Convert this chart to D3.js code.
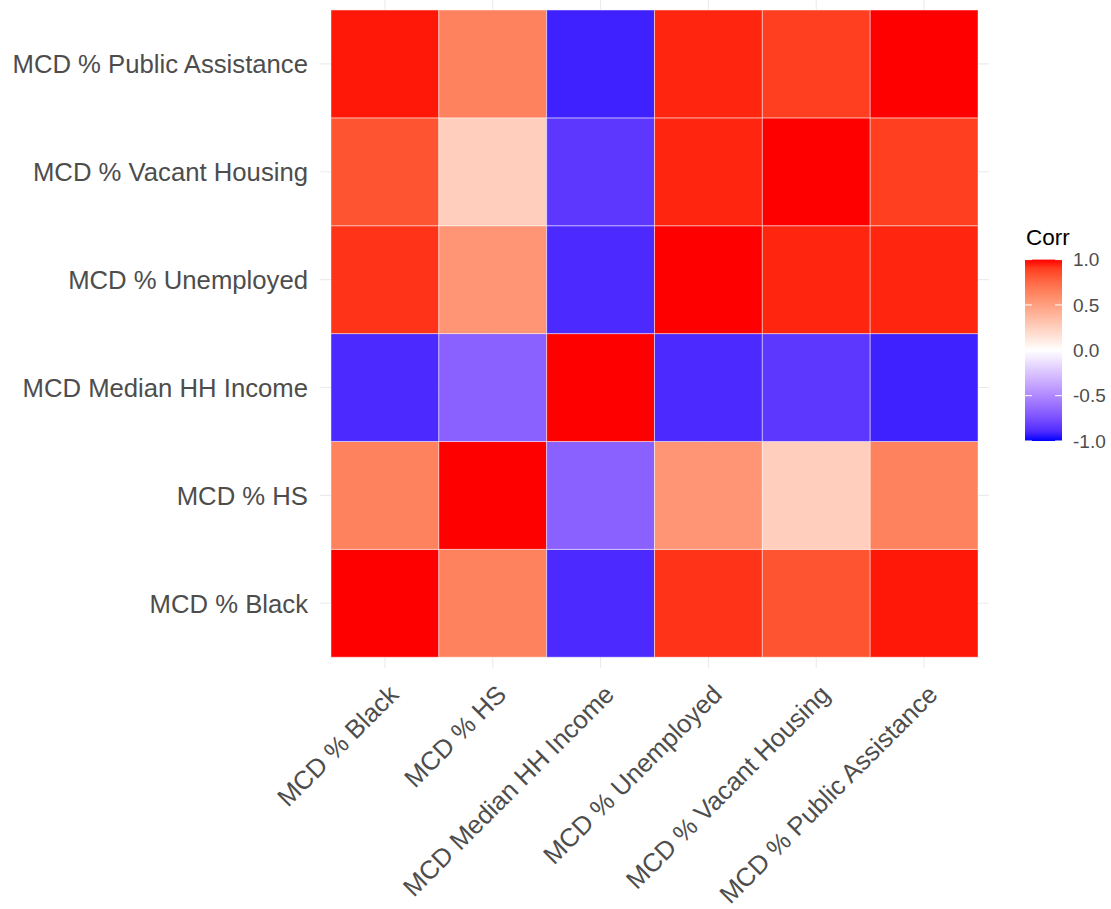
<!DOCTYPE html>
<html>
<head>
<meta charset="utf-8">
<script src="https://cdn.jsdelivr.net/npm/d3@7"></script>
<style>
  body { margin: 0; background: #fff; }
  text { font-family: "Liberation Sans", Arial, Helvetica, sans-serif; }
</style>
</head>
<body>
<svg id="chart" width="1111" height="909"></svg>
<script>
// variables, in axis order (x left to right, y bottom to top)
const vars = ["MCD % Black", "MCD % HS", "MCD Median HH Income",
              "MCD % Unemployed", "MCD % Vacant Housing", "MCD % Public Assistance"];

// correlation rows (same order as vars)
const corrBlack      = [1.00,  0.64, -0.90,  0.93,  0.83,  0.98];
const corrHS         = [0.64,  1.00, -0.68,  0.55,  0.26,  0.64];
const corrIncome     = [-0.90, -0.68, 1.00, -0.90, -0.85, -0.93];
const corrUnemployed = [0.93,  0.55, -0.90,  1.00,  0.96,  0.96];
const corrVacant     = [0.83,  0.26, -0.85,  0.96,  1.00,  0.90];
const corrPublic     = [0.98,  0.64, -0.93,  0.96,  0.90,  1.00];

const legendTicks = [-1.0, -0.5, 0.0, 0.5, 1.0];

const rows = [corrBlack, corrHS, corrIncome, corrUnemployed, corrVacant, corrPublic];
const cells = [];
rows.forEach((r, i) => r.forEach((v, j) => cells.push({ row: vars[i], col: vars[j], value: v })));

const svg = d3.select("#chart");

// panel (tiles sit inside with 0.1 step of extra space on every side)
const panel = { left: 320.2, right: 988.8, top: -0.8, bottom: 668 };

const x = d3.scaleBand()
  .domain(vars)
  .range([panel.left, panel.right])
  .paddingInner(0)
  .paddingOuter(0.1);

const y = d3.scaleBand()
  .domain(vars)
  .range([panel.bottom, panel.top])
  .paddingInner(0)
  .paddingOuter(0.1);

const color = d3.scaleLinear()
  .domain([-1, 0, 1])
  .range(["#0000ff", "#ffffff", "#ff0000"])
  .interpolate(d3.interpolateLab);

// gridlines
const grid = svg.append("g").attr("stroke", "#ebebeb").attr("stroke-width", 1.1);
grid.selectAll(".gx")
  .data(vars)
  .enter().append("line")
  .attr("x1", d => x(d) + x.bandwidth() / 2)
  .attr("x2", d => x(d) + x.bandwidth() / 2)
  .attr("y1", panel.top)
  .attr("y2", panel.bottom);
grid.selectAll(".gy")
  .data(vars)
  .enter().append("line")
  .attr("y1", d => y(d) + y.bandwidth() / 2)
  .attr("y2", d => y(d) + y.bandwidth() / 2)
  .attr("x1", panel.left)
  .attr("x2", panel.right);

// tiles
svg.append("g").selectAll("rect")
  .data(cells)
  .enter().append("rect")
  .attr("x", d => x(d.col))
  .attr("y", d => y(d.row))
  .attr("width", x.bandwidth())
  .attr("height", y.bandwidth())
  .attr("fill", d => color(d.value))
  .attr("stroke", "rgba(255,255,255,0.45)")
  .attr("stroke-width", 1);

// y axis labels
svg.append("g").selectAll("text")
  .data(vars)
  .enter().append("text")
  .attr("x", 308)
  .attr("y", d => y(d) + y.bandwidth() / 2)
  .attr("dy", "0.36em")
  .attr("text-anchor", "end")
  .attr("fill", "#4d4d4d")
  .style("font-size", "25.7px")
  .text(d => d);

// x axis labels, rotated 45 degrees
svg.append("g").selectAll("text")
  .data(vars)
  .enter().append("text")
  .attr("transform", d => `translate(${x(d) + x.bandwidth() / 2 + 2},${683}) rotate(-45)`)
  .attr("dy", "0.72em")
  .attr("text-anchor", "end")
  .attr("fill", "#4d4d4d")
  .style("font-size", "25.7px")
  .text(d => d);

// legend
const legendX = 1025, legendW = 37;
const ly = d3.scaleLinear().domain([-1, 1]).range([441, 259.6]);

const defs = svg.append("defs");
const grad = defs.append("linearGradient")
  .attr("id", "corrGrad")
  .attr("x1", 0).attr("y1", 1).attr("x2", 0).attr("y2", 0);
d3.range(0, 1.0001, 0.05).forEach(t => {
  grad.append("stop")
    .attr("offset", t)
    .attr("stop-color", color(-1 + 2 * t));
});

svg.append("rect")
  .attr("x", legendX)
  .attr("y", ly(1))
  .attr("width", legendW)
  .attr("height", ly(-1) - ly(1))
  .attr("fill", "url(#corrGrad)");

const lt = svg.append("g").attr("stroke", "#ffffff").attr("stroke-width", 1);
legendTicks.forEach(v => {
  lt.append("line")
    .attr("x1", legendX).attr("x2", legendX + 7)
    .attr("y1", ly(v)).attr("y2", ly(v));
  lt.append("line")
    .attr("x1", legendX + legendW - 7).attr("x2", legendX + legendW)
    .attr("y1", ly(v)).attr("y2", ly(v));
});

svg.append("g").selectAll("text")
  .data(legendTicks)
  .enter().append("text")
  .attr("x", 1073)
  .attr("y", d => ly(d))
  .attr("dy", "0.36em")
  .attr("fill", "#4d4d4d")
  .style("font-size", "19px")
  .text(d => d3.format(".1f")(d).replace("−", "-"));

svg.append("text")
  .attr("x", 1026)
  .attr("y", 245)
  .attr("fill", "#000")
  .style("font-size", "22.5px")
  .text("Corr");
</script>
</body>
</html>
